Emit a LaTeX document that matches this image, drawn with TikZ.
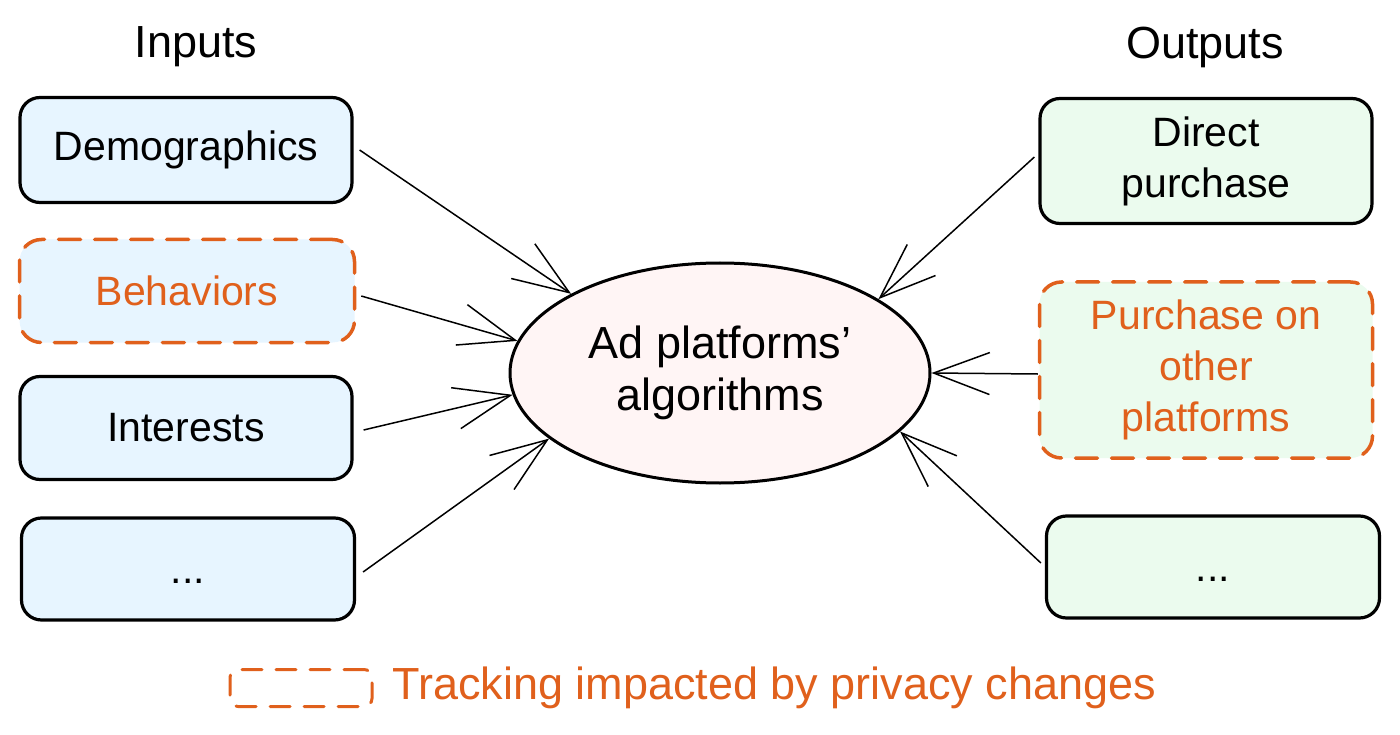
\documentclass[tikz,border=0pt]{standalone}
\usepackage{fontspec}
\setmainfont{Liberation Sans}
\usetikzlibrary{shapes.geometric,arrows.meta}
\definecolor{inblue}{HTML}{E7F5FF}
\definecolor{outgreen}{HTML}{EBFBEE}
\definecolor{ellpink}{HTML}{FFF5F5}
\definecolor{orng}{HTML}{E0601C}
\tikzset{
  txt/.style={font=\fontsize{41}{51}\selectfont, align=center},
  bigtxt/.style={font=\fontsize{45}{52}\selectfont, align=center},
  box/.style={txt, draw=black, line width=3.2pt, rounded corners=20pt, inner sep=0pt},
  track/.style={txt, draw=orng, text=orng, line width=3.5pt, rounded corners=22pt, inner sep=0pt,
    dash pattern=on 22pt off 14pt, line cap=round},
  inbox/.style={fill=inblue},
  outbox/.style={fill=outgreen},
  arr/.style={line width=1.5pt, -{Straight Barb[length=56pt,width=42pt,line width=1.5pt]}}
}
\begin{document}
\begin{tikzpicture}[x=1pt,y=-1pt]
\useasboundingbox (0,0) rectangle (1400,735);
% titles
\node[bigtxt] (tin) at (196,47) {Inputs};
\node[bigtxt] (tout) at (1205,47) {Outputs};
% inputs
\node[box,inbox,minimum width=332pt,minimum height=105pt] (demo) at (186,150) {Demographics};
\node[track,inbox,minimum width=335pt,minimum height=103pt] (beh) at (187,291) {Behaviors};
\node[box,inbox,minimum width=332pt,minimum height=103pt] (int) at (186,428) {Interests};
\node[box,inbox,minimum width=333pt,minimum height=102pt] (indots) at (188,569) {\smash{\raisebox{-14pt}{...}}};
% outputs
\node[box,outbox,minimum width=332pt,minimum height=125pt] (direct) at (1206,161) {Direct\\purchase};
\node[track,outbox,minimum width=333pt,minimum height=176pt] (other) at (1206,370) {Purchase on\\other\\platforms};
\node[box,outbox,minimum width=333pt,minimum height=102pt] (outdots) at (1213,567) {\smash{\raisebox{-14pt}{...}}};
% center
\node[bigtxt,ellipse,draw=black,line width=3pt,fill=ellpink,minimum width=420pt,minimum height=220pt,inner sep=0pt] (alg) at (720,373) {Ad platforms'\\algorithms};
% arrows
\draw[arr] ([xshift=6pt]demo.east) -- (alg.152.8);
\draw[arr] ([xshift=5pt,yshift=-5pt]beh.east) -- (alg.171.6);
\draw[arr] ([xshift=10pt,yshift=-2pt]int.east) -- (alg.186.7);
\draw[arr] ([xshift=7pt,yshift=-3pt]indots.east) -- (alg.201.7);
\draw[arr] ([xshift=-4pt,yshift=4pt]direct.west) -- (alg.25.3);
\draw[arr] ([yshift=-4pt]other.west) -- (alg.-0.8);
\draw[arr] ([xshift=-4pt,yshift=4pt]outdots.west) -- (alg.-18.4);
% legend
\node[draw=orng,line width=3pt,rounded corners=8pt,dash pattern=on 20pt off 14pt,line cap=round,minimum width=142pt,minimum height=37pt,inner sep=0pt] (legbox) at (301,688) {};
\node[bigtxt,text=orng,anchor=west,inner sep=0pt] (legtxt) at (392,688) {Tracking impacted by privacy changes};
\end{tikzpicture}
\end{document}
